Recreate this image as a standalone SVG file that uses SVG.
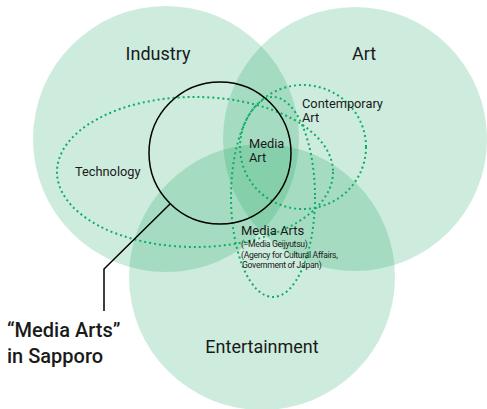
<svg xmlns="http://www.w3.org/2000/svg" width="487" height="409" viewBox="0 0 487 409">
  <style>
    .set { fill: #05a055; fill-opacity: 0.2; stroke: none; }
    .dots { fill: none; stroke: #0fae62; stroke-width: 2; stroke-dasharray: 2 3; }
    .t { font-family: Roboto, "Liberation Sans", sans-serif; fill: #1a1a1a; }
    .big { font-size: 18px; }
    .mid { font-size: 12.8px; }
    .small { font-size: 8.6px; letter-spacing: -0.3px; }
    .line { fill: none; stroke: #000; stroke-width: 1.5; }
  </style>
  <rect width="487" height="409" fill="#fff"/>

  <g id="industry">
    <circle class="set" cx="166" cy="139" r="133"/>
    <text class="t big" x="158" y="60" text-anchor="middle">Industry</text>
  </g>
  <g id="art">
    <circle class="set" cx="355" cy="139" r="132"/>
    <text class="t big" x="364" y="60" text-anchor="middle">Art</text>
  </g>
  <g id="entertainment">
    <circle class="set" cx="262" cy="277" r="133"/>
    <text class="t big" x="262" y="353" text-anchor="middle">Entertainment</text>
  </g>

  <g id="technology">
    <ellipse class="dots" cx="195" cy="172" rx="138" ry="75"/>
    <text class="t mid" x="75" y="176">Technology</text>
  </g>
  <g id="contemporary-art">
    <ellipse class="dots" cx="303" cy="147" rx="63" ry="62"/>
    <text class="t mid" x="302" y="108">Contemporary</text>
    <text class="t mid" x="302" y="122">Art</text>
  </g>
  <g id="media-arts">
    <ellipse class="dots" cx="273" cy="197" rx="42" ry="100"/>
    <text class="t" font-size="13px" x="241" y="235">Media Arts</text>
    <text class="t small" x="241" y="247">(=Media Geijyutsu)</text>
    <text class="t small" x="241" y="258">(Agency for Cultural Affairs,</text>
    <text class="t small" x="242" y="268">Government of Japan)</text>
  </g>
  <g id="media-art">
    <text class="t mid" x="249" y="148">Media</text>
    <text class="t mid" x="249" y="162">Art</text>
  </g>

  <g id="sapporo">
    <circle class="line" cx="220" cy="153" r="71"/>
    <text class="t" font-size="20px" font-weight="500" x="7" y="337">“Media Arts”</text>
    <text class="t" font-size="20px" font-weight="500" x="7" y="363">in Sapporo</text>
  </g>

  <g id="connectors">
    <polyline class="line" points="170,204 104,269 104,311"/>
  </g>
</svg>
